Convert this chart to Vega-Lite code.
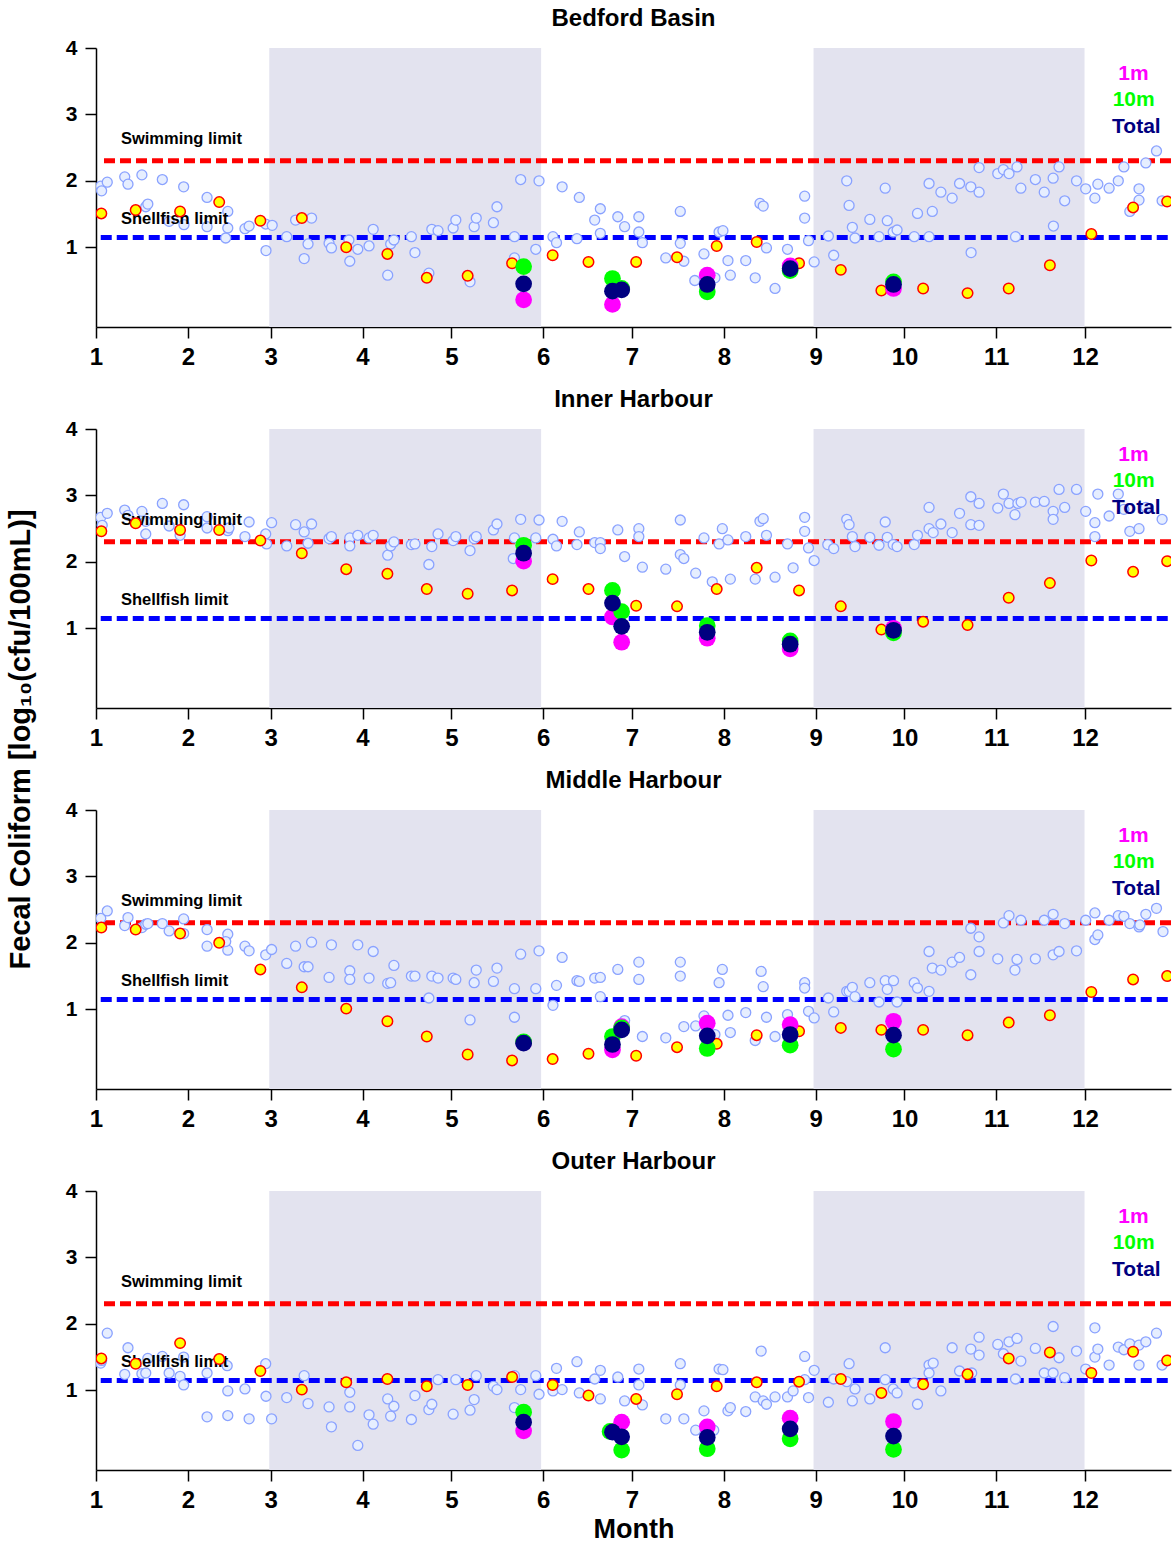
{
"$schema":"https://vega.github.io/schema/vega-lite/v6.json",
"background":"white",
"padding":{"left":7,"top":7,"right":0,"bottom":0},
"title":{"text":"Fecal Coliform [log₁₀(cfu/100mL)]","orient":"left","anchor":"middle","fontSize":29,"fontWeight":"bold","font":"Liberation Sans","color":"black","offset":29,"dx":35},
"config":{"font":"Liberation Sans","view":{"stroke":null},
 "axis":{"domainColor":"black","domainWidth":1.5,"tickColor":"black","tickWidth":1.5,"labelColor":"black","labelFontWeight":"bold","labelFont":"Liberation Sans","titleFont":"Liberation Sans","titleFontWeight":"bold","titleColor":"black","titleFontSize":27,"grid":false},
 "title":{"font":"Liberation Sans","fontSize":24,"fontWeight":"bold","color":"black","offset":6},
 "concat":{"spacing":19}},
"datasets":{
"seasons":[{"start":59.5,"end":151.3},{"start":243.3,"end":334.8}],
"limits":[{"limit":"Swimming limit","v":2.301,"start":3.7,"end":364},{"limit":"Shellfish limit","v":1.146,"start":2.6,"end":364}],
"notes":[{"label":"Swimming limit","v":2.63},{"label":"Shellfish limit","v":1.42}],
"legend":[{"depth":"1m","v":3.61,"day":351.3},{"depth":"10m","v":3.21,"day":351.4},{"depth":"Total","v":2.81,"day":352.3}],
"blue":[
{"site":"BB","day":2.6,"v":1.92},{"site":"BB","day":2.9,"v":1.85},{"site":"BB","day":4.8,"v":1.98},{"site":"BB","day":10.7,"v":2.06},{"site":"BB","day":11.8,"v":1.95},{"site":"BB","day":16.5,"v":2.09},{"site":"BB","day":23.4,"v":2.02},{"site":"BB","day":30.6,"v":1.91},{"site":"BB","day":17.8,"v":1.61},{"site":"BB","day":18.5,"v":1.65},{"site":"BB","day":25.7,"v":1.39},{"site":"BB","day":30.7,"v":1.34},{"site":"BB","day":38.5,"v":1.75},{"site":"BB","day":38.5,"v":1.31},{"site":"BB","day":45.5,"v":1.54},{"site":"BB","day":45.5,"v":1.29},{"site":"BB","day":44.8,"v":1.14},{"site":"BB","day":51.3,"v":1.28},{"site":"BB","day":52.7,"v":1.32},{"site":"BB","day":58.3,"v":1.35},{"site":"BB","day":60.5,"v":1.33},{"site":"BB","day":58.4,"v":0.95},{"site":"BB","day":65.4,"v":1.16},{"site":"BB","day":68.4,"v":1.41},{"site":"BB","day":73.8,"v":1.44},{"site":"BB","day":72.6,"v":1.05},{"site":"BB","day":71.3,"v":0.83},{"site":"BB","day":79.7,"v":1.06},{"site":"BB","day":80.5,"v":0.99},{"site":"BB","day":86.4,"v":1.11},{"site":"BB","day":86.7,"v":0.79},{"site":"BB","day":89.4,"v":0.97},{"site":"BB","day":93.2,"v":1.02},{"site":"BB","day":94.6,"v":1.27},{"site":"BB","day":99.5,"v":0.58},{"site":"BB","day":100.5,"v":1.05},{"site":"BB","day":101.6,"v":1.11},{"site":"BB","day":107.5,"v":1.16},{"site":"BB","day":108.7,"v":0.92},{"site":"BB","day":113.4,"v":0.61},{"site":"BB","day":114.4,"v":1.27},{"site":"BB","day":116.5,"v":1.25},{"site":"BB","day":121.6,"v":1.29},{"site":"BB","day":122.5,"v":1.41},{"site":"BB","day":127.3,"v":0.48},{"site":"BB","day":128.7,"v":1.31},{"site":"BB","day":129.4,"v":1.44},{"site":"BB","day":135.2,"v":1.37},{"site":"BB","day":136.4,"v":1.61},{"site":"BB","day":142.3,"v":1.16},{"site":"BB","day":142.3,"v":0.84},{"site":"BB","day":144.4,"v":2.02},{"site":"BB","day":149.5,"v":0.97},{"site":"BB","day":150.6,"v":2.0},{"site":"BB","day":155.3,"v":1.16},{"site":"BB","day":156.5,"v":1.07},{"site":"BB","day":158.4,"v":1.91},{"site":"BB","day":163.4,"v":1.13},{"site":"BB","day":164.2,"v":1.75},{"site":"BB","day":169.4,"v":1.41},{"site":"BB","day":171.3,"v":1.58},{"site":"BB","day":171.3,"v":1.21},{"site":"BB","day":177.2,"v":1.46},{"site":"BB","day":179.5,"v":1.31},{"site":"BB","day":184.3,"v":1.46},{"site":"BB","day":184.3,"v":1.23},{"site":"BB","day":185.5,"v":1.07},{"site":"BB","day":193.4,"v":0.84},{"site":"BB","day":198.3,"v":1.54},{"site":"BB","day":198.3,"v":1.06},{"site":"BB","day":199.5,"v":0.79},{"site":"BB","day":203.2,"v":0.5},{"site":"BB","day":206.3,"v":0.9},{"site":"BB","day":210.0,"v":0.54},{"site":"BB","day":211.4,"v":1.23},{"site":"BB","day":212.7,"v":1.25},{"site":"BB","day":214.4,"v":0.8},{"site":"BB","day":215.2,"v":0.58},{"site":"BB","day":220.4,"v":0.8},{"site":"BB","day":223.6,"v":0.54},{"site":"BB","day":225.2,"v":1.66},{"site":"BB","day":226.3,"v":1.62},{"site":"BB","day":227.4,"v":0.99},{"site":"BB","day":230.3,"v":0.38},{"site":"BB","day":234.5,"v":0.97},{"site":"BB","day":240.3,"v":1.77},{"site":"BB","day":240.3,"v":1.44},{"site":"BB","day":241.6,"v":1.1},{"site":"BB","day":243.5,"v":0.78},{"site":"BB","day":248.3,"v":1.17},{"site":"BB","day":250.1,"v":0.88},{"site":"BB","day":254.5,"v":2.0},{"site":"BB","day":255.3,"v":1.63},{"site":"BB","day":256.4,"v":1.3},{"site":"BB","day":257.3,"v":1.14},{"site":"BB","day":262.3,"v":1.42},{"site":"BB","day":265.4,"v":1.16},{"site":"BB","day":267.5,"v":1.89},{"site":"BB","day":268.2,"v":1.4},{"site":"BB","day":270.2,"v":1.23},{"site":"BB","day":271.5,"v":1.26},{"site":"BB","day":277.3,"v":1.16},{"site":"BB","day":278.4,"v":1.51},{"site":"BB","day":282.3,"v":1.96},{"site":"BB","day":282.3,"v":1.16},{"site":"BB","day":283.4,"v":1.54},{"site":"BB","day":286.3,"v":1.83},{"site":"BB","day":290.1,"v":1.74},{"site":"BB","day":292.6,"v":1.96},{"site":"BB","day":296.4,"v":1.91},{"site":"BB","day":296.5,"v":0.92},{"site":"BB","day":299.2,"v":2.2},{"site":"BB","day":299.2,"v":1.83},{"site":"BB","day":305.5,"v":2.11},{"site":"BB","day":307.4,"v":2.17},{"site":"BB","day":309.3,"v":2.11},{"site":"BB","day":312.0,"v":2.21},{"site":"BB","day":313.3,"v":1.89},{"site":"BB","day":311.5,"v":1.16},{"site":"BB","day":318.2,"v":2.02},{"site":"BB","day":321.2,"v":1.83},{"site":"BB","day":324.2,"v":2.04},{"site":"BB","day":326.2,"v":2.21},{"site":"BB","day":324.3,"v":1.32},{"site":"BB","day":328.1,"v":1.7},{"site":"BB","day":332.1,"v":2.0},{"site":"BB","day":335.2,"v":1.88},{"site":"BB","day":338.3,"v":1.74},{"site":"BB","day":339.3,"v":1.95},{"site":"BB","day":343.1,"v":1.89},{"site":"BB","day":346.2,"v":2.0},{"site":"BB","day":348.1,"v":2.21},{"site":"BB","day":350.1,"v":1.54},{"site":"BB","day":353.2,"v":1.88},{"site":"BB","day":353.2,"v":1.71},{"site":"BB","day":355.5,"v":2.27},{"site":"BB","day":359.1,"v":2.45},{"site":"BB","day":361.0,"v":1.7},
{"site":"IH","day":2.6,"v":2.67},{"site":"IH","day":3.1,"v":2.55},{"site":"IH","day":4.8,"v":2.73},{"site":"IH","day":10.7,"v":2.78},{"site":"IH","day":11.8,"v":2.7},{"site":"IH","day":16.5,"v":2.76},{"site":"IH","day":17.8,"v":2.42},{"site":"IH","day":17.8,"v":2.61},{"site":"IH","day":23.4,"v":2.88},{"site":"IH","day":25.7,"v":2.54},{"site":"IH","day":30.6,"v":2.86},{"site":"IH","day":29.4,"v":2.4},{"site":"IH","day":38.5,"v":2.68},{"site":"IH","day":38.5,"v":2.51},{"site":"IH","day":45.5,"v":2.47},{"site":"IH","day":45.9,"v":2.51},{"site":"IH","day":51.3,"v":2.38},{"site":"IH","day":52.7,"v":2.6},{"site":"IH","day":58.3,"v":2.42},{"site":"IH","day":58.6,"v":2.27},{"site":"IH","day":60.3,"v":2.59},{"site":"IH","day":65.4,"v":2.24},{"site":"IH","day":68.4,"v":2.56},{"site":"IH","day":71.3,"v":2.45},{"site":"IH","day":72.6,"v":2.28},{"site":"IH","day":73.8,"v":2.57},{"site":"IH","day":79.7,"v":2.35},{"site":"IH","day":80.5,"v":2.38},{"site":"IH","day":86.7,"v":2.36},{"site":"IH","day":86.7,"v":2.24},{"site":"IH","day":89.4,"v":2.4},{"site":"IH","day":93.2,"v":2.36},{"site":"IH","day":94.6,"v":2.4},{"site":"IH","day":99.5,"v":2.1},{"site":"IH","day":100.5,"v":2.24},{"site":"IH","day":101.6,"v":2.3},{"site":"IH","day":107.5,"v":2.26},{"site":"IH","day":108.7,"v":2.27},{"site":"IH","day":113.4,"v":1.96},{"site":"IH","day":114.4,"v":2.23},{"site":"IH","day":116.5,"v":2.42},{"site":"IH","day":121.6,"v":2.32},{"site":"IH","day":122.5,"v":2.38},{"site":"IH","day":127.3,"v":2.17},{"site":"IH","day":128.7,"v":2.35},{"site":"IH","day":129.4,"v":2.38},{"site":"IH","day":135.2,"v":2.48},{"site":"IH","day":136.4,"v":2.57},{"site":"IH","day":142.3,"v":2.36},{"site":"IH","day":141.9,"v":2.05},{"site":"IH","day":144.4,"v":2.64},{"site":"IH","day":149.5,"v":2.36},{"site":"IH","day":150.6,"v":2.63},{"site":"IH","day":155.3,"v":2.34},{"site":"IH","day":156.5,"v":2.24},{"site":"IH","day":158.4,"v":2.61},{"site":"IH","day":163.4,"v":2.26},{"site":"IH","day":164.2,"v":2.45},{"site":"IH","day":169.4,"v":2.29},{"site":"IH","day":171.3,"v":2.29},{"site":"IH","day":171.3,"v":2.2},{"site":"IH","day":177.2,"v":2.48},{"site":"IH","day":179.5,"v":2.08},{"site":"IH","day":184.3,"v":2.5},{"site":"IH","day":184.3,"v":2.38},{"site":"IH","day":185.5,"v":1.92},{"site":"IH","day":193.4,"v":1.89},{"site":"IH","day":198.3,"v":2.63},{"site":"IH","day":198.3,"v":2.11},{"site":"IH","day":199.5,"v":2.05},{"site":"IH","day":203.5,"v":1.83},{"site":"IH","day":206.3,"v":2.36},{"site":"IH","day":211.4,"v":2.27},{"site":"IH","day":212.5,"v":2.5},{"site":"IH","day":214.4,"v":2.33},{"site":"IH","day":215.2,"v":1.74},{"site":"IH","day":209.1,"v":1.7},{"site":"IH","day":220.4,"v":2.38},{"site":"IH","day":223.6,"v":1.74},{"site":"IH","day":225.2,"v":2.61},{"site":"IH","day":226.3,"v":2.65},{"site":"IH","day":227.4,"v":2.4},{"site":"IH","day":230.3,"v":1.77},{"site":"IH","day":234.5,"v":2.27},{"site":"IH","day":236.4,"v":1.91},{"site":"IH","day":240.3,"v":2.67},{"site":"IH","day":240.3,"v":2.46},{"site":"IH","day":241.6,"v":2.21},{"site":"IH","day":243.5,"v":2.02},{"site":"IH","day":248.1,"v":2.26},{"site":"IH","day":250.1,"v":2.2},{"site":"IH","day":254.5,"v":2.64},{"site":"IH","day":255.3,"v":2.56},{"site":"IH","day":256.4,"v":2.38},{"site":"IH","day":257.3,"v":2.23},{"site":"IH","day":262.3,"v":2.37},{"site":"IH","day":265.4,"v":2.25},{"site":"IH","day":267.5,"v":2.6},{"site":"IH","day":268.2,"v":2.37},{"site":"IH","day":270.2,"v":2.26},{"site":"IH","day":271.5,"v":2.23},{"site":"IH","day":277.3,"v":2.26},{"site":"IH","day":278.4,"v":2.4},{"site":"IH","day":282.3,"v":2.82},{"site":"IH","day":282.3,"v":2.5},{"site":"IH","day":283.7,"v":2.44},{"site":"IH","day":286.3,"v":2.57},{"site":"IH","day":290.1,"v":2.44},{"site":"IH","day":292.6,"v":2.73},{"site":"IH","day":296.4,"v":2.98},{"site":"IH","day":296.4,"v":2.56},{"site":"IH","day":299.2,"v":2.88},{"site":"IH","day":299.2,"v":2.55},{"site":"IH","day":305.5,"v":2.81},{"site":"IH","day":307.4,"v":3.02},{"site":"IH","day":309.3,"v":2.88},{"site":"IH","day":311.3,"v":2.71},{"site":"IH","day":312.3,"v":2.88},{"site":"IH","day":313.4,"v":2.9},{"site":"IH","day":318.2,"v":2.9},{"site":"IH","day":321.2,"v":2.91},{"site":"IH","day":324.2,"v":2.76},{"site":"IH","day":324.2,"v":2.64},{"site":"IH","day":326.2,"v":3.09},{"site":"IH","day":328.1,"v":2.82},{"site":"IH","day":332.1,"v":3.09},{"site":"IH","day":335.2,"v":2.76},{"site":"IH","day":338.3,"v":2.59},{"site":"IH","day":338.3,"v":2.38},{"site":"IH","day":339.3,"v":3.02},{"site":"IH","day":343.1,"v":2.69},{"site":"IH","day":346.2,"v":3.02},{"site":"IH","day":348.1,"v":2.79},{"site":"IH","day":350.1,"v":2.46},{"site":"IH","day":353.2,"v":2.5},{"site":"IH","day":355.5,"v":2.82},{"site":"IH","day":361.0,"v":2.64},
{"site":"MH","day":2.6,"v":2.37},{"site":"MH","day":4.8,"v":2.48},{"site":"MH","day":10.7,"v":2.26},{"site":"MH","day":11.8,"v":2.38},{"site":"MH","day":16.5,"v":2.23},{"site":"MH","day":17.8,"v":2.28},{"site":"MH","day":18.5,"v":2.29},{"site":"MH","day":23.4,"v":2.29},{"site":"MH","day":25.7,"v":2.18},{"site":"MH","day":30.6,"v":2.36},{"site":"MH","day":30.6,"v":2.14},{"site":"MH","day":38.5,"v":2.2},{"site":"MH","day":38.5,"v":1.95},{"site":"MH","day":45.5,"v":2.13},{"site":"MH","day":45.5,"v":1.89},{"site":"MH","day":44.8,"v":2.02},{"site":"MH","day":51.3,"v":1.95},{"site":"MH","day":52.7,"v":1.88},{"site":"MH","day":58.3,"v":1.82},{"site":"MH","day":60.3,"v":1.9},{"site":"MH","day":65.4,"v":1.69},{"site":"MH","day":68.4,"v":1.95},{"site":"MH","day":71.3,"v":1.64},{"site":"MH","day":72.6,"v":1.64},{"site":"MH","day":73.8,"v":2.01},{"site":"MH","day":79.7,"v":1.48},{"site":"MH","day":80.5,"v":1.97},{"site":"MH","day":86.7,"v":1.58},{"site":"MH","day":86.7,"v":1.45},{"site":"MH","day":89.4,"v":1.97},{"site":"MH","day":93.2,"v":1.47},{"site":"MH","day":94.6,"v":1.87},{"site":"MH","day":99.5,"v":1.39},{"site":"MH","day":100.5,"v":1.4},{"site":"MH","day":101.6,"v":1.66},{"site":"MH","day":107.5,"v":1.5},{"site":"MH","day":108.7,"v":1.5},{"site":"MH","day":113.4,"v":1.17},{"site":"MH","day":114.4,"v":1.5},{"site":"MH","day":116.5,"v":1.47},{"site":"MH","day":121.6,"v":1.47},{"site":"MH","day":122.5,"v":1.45},{"site":"MH","day":127.3,"v":0.84},{"site":"MH","day":128.7,"v":1.4},{"site":"MH","day":129.4,"v":1.59},{"site":"MH","day":135.2,"v":1.42},{"site":"MH","day":136.4,"v":1.62},{"site":"MH","day":142.3,"v":1.31},{"site":"MH","day":142.3,"v":0.88},{"site":"MH","day":144.4,"v":1.83},{"site":"MH","day":149.5,"v":1.31},{"site":"MH","day":150.6,"v":1.88},{"site":"MH","day":155.3,"v":1.06},{"site":"MH","day":156.5,"v":1.36},{"site":"MH","day":158.4,"v":1.78},{"site":"MH","day":163.4,"v":1.43},{"site":"MH","day":164.2,"v":1.42},{"site":"MH","day":169.4,"v":1.47},{"site":"MH","day":171.3,"v":1.48},{"site":"MH","day":171.3,"v":1.19},{"site":"MH","day":177.2,"v":1.6},{"site":"MH","day":179.5,"v":0.83},{"site":"MH","day":184.3,"v":1.71},{"site":"MH","day":184.3,"v":1.45},{"site":"MH","day":185.5,"v":0.59},{"site":"MH","day":193.4,"v":0.57},{"site":"MH","day":198.3,"v":1.71},{"site":"MH","day":198.3,"v":1.5},{"site":"MH","day":199.5,"v":0.74},{"site":"MH","day":203.5,"v":0.75},{"site":"MH","day":206.3,"v":0.9},{"site":"MH","day":210.0,"v":0.62},{"site":"MH","day":211.4,"v":1.4},{"site":"MH","day":212.5,"v":1.6},{"site":"MH","day":214.4,"v":0.91},{"site":"MH","day":215.2,"v":0.65},{"site":"MH","day":220.4,"v":0.95},{"site":"MH","day":223.6,"v":0.53},{"site":"MH","day":225.6,"v":1.57},{"site":"MH","day":226.3,"v":1.34},{"site":"MH","day":227.4,"v":0.88},{"site":"MH","day":230.3,"v":0.59},{"site":"MH","day":234.5,"v":0.92},{"site":"MH","day":240.3,"v":1.4},{"site":"MH","day":240.3,"v":1.32},{"site":"MH","day":241.6,"v":0.97},{"site":"MH","day":243.5,"v":0.87},{"site":"MH","day":248.3,"v":1.17},{"site":"MH","day":250.1,"v":0.96},{"site":"MH","day":254.5,"v":1.27},{"site":"MH","day":255.3,"v":1.27},{"site":"MH","day":256.4,"v":1.33},{"site":"MH","day":257.3,"v":1.19},{"site":"MH","day":262.3,"v":1.4},{"site":"MH","day":265.4,"v":1.11},{"site":"MH","day":267.5,"v":1.43},{"site":"MH","day":268.2,"v":1.3},{"site":"MH","day":270.3,"v":1.43},{"site":"MH","day":271.5,"v":1.11},{"site":"MH","day":277.3,"v":1.4},{"site":"MH","day":278.4,"v":1.32},{"site":"MH","day":282.3,"v":1.87},{"site":"MH","day":282.3,"v":1.27},{"site":"MH","day":283.4,"v":1.62},{"site":"MH","day":286.3,"v":1.59},{"site":"MH","day":290.1,"v":1.71},{"site":"MH","day":292.6,"v":1.78},{"site":"MH","day":296.4,"v":2.22},{"site":"MH","day":296.4,"v":1.52},{"site":"MH","day":299.2,"v":2.09},{"site":"MH","day":299.2,"v":1.87},{"site":"MH","day":305.5,"v":1.76},{"site":"MH","day":307.4,"v":2.3},{"site":"MH","day":309.3,"v":2.41},{"site":"MH","day":312.0,"v":1.75},{"site":"MH","day":311.3,"v":1.59},{"site":"MH","day":313.3,"v":2.34},{"site":"MH","day":318.2,"v":1.76},{"site":"MH","day":321.2,"v":2.34},{"site":"MH","day":324.2,"v":1.82},{"site":"MH","day":324.2,"v":2.43},{"site":"MH","day":326.2,"v":1.87},{"site":"MH","day":328.1,"v":2.29},{"site":"MH","day":332.1,"v":1.88},{"site":"MH","day":335.2,"v":2.34},{"site":"MH","day":338.3,"v":2.45},{"site":"MH","day":338.3,"v":2.05},{"site":"MH","day":339.3,"v":2.12},{"site":"MH","day":343.1,"v":2.34},{"site":"MH","day":346.2,"v":2.41},{"site":"MH","day":348.1,"v":2.4},{"site":"MH","day":350.1,"v":2.29},{"site":"MH","day":353.2,"v":2.24},{"site":"MH","day":353.5,"v":2.27},{"site":"MH","day":355.5,"v":2.43},{"site":"MH","day":359.1,"v":2.52},{"site":"MH","day":361.3,"v":2.17},
{"site":"OH","day":2.6,"v":1.41},{"site":"OH","day":2.9,"v":1.45},{"site":"OH","day":4.8,"v":1.86},{"site":"OH","day":10.7,"v":1.24},{"site":"OH","day":11.8,"v":1.64},{"site":"OH","day":16.5,"v":1.25},{"site":"OH","day":17.8,"v":1.26},{"site":"OH","day":18.5,"v":1.48},{"site":"OH","day":23.4,"v":1.51},{"site":"OH","day":25.7,"v":1.26},{"site":"OH","day":29.4,"v":1.21},{"site":"OH","day":30.6,"v":1.5},{"site":"OH","day":30.6,"v":1.08},{"site":"OH","day":38.5,"v":0.6},{"site":"OH","day":38.5,"v":1.26},{"site":"OH","day":45.5,"v":0.99},{"site":"OH","day":45.5,"v":0.62},{"site":"OH","day":45.3,"v":1.37},{"site":"OH","day":51.3,"v":1.02},{"site":"OH","day":52.7,"v":0.57},{"site":"OH","day":58.3,"v":1.4},{"site":"OH","day":58.4,"v":0.91},{"site":"OH","day":60.3,"v":0.57},{"site":"OH","day":65.4,"v":0.89},{"site":"OH","day":71.3,"v":1.22},{"site":"OH","day":72.6,"v":0.8},{"site":"OH","day":79.7,"v":0.75},{"site":"OH","day":80.5,"v":0.45},{"site":"OH","day":86.7,"v":0.97},{"site":"OH","day":86.7,"v":0.75},{"site":"OH","day":89.4,"v":0.17},{"site":"OH","day":93.2,"v":0.63},{"site":"OH","day":94.6,"v":0.49},{"site":"OH","day":99.5,"v":0.87},{"site":"OH","day":100.5,"v":0.61},{"site":"OH","day":101.6,"v":0.76},{"site":"OH","day":107.5,"v":0.56},{"site":"OH","day":108.7,"v":0.92},{"site":"OH","day":113.4,"v":0.71},{"site":"OH","day":114.4,"v":0.79},{"site":"OH","day":116.5,"v":1.16},{"site":"OH","day":121.6,"v":0.64},{"site":"OH","day":122.5,"v":1.16},{"site":"OH","day":127.3,"v":0.7},{"site":"OH","day":128.7,"v":0.86},{"site":"OH","day":129.4,"v":1.22},{"site":"OH","day":135.2,"v":1.06},{"site":"OH","day":136.4,"v":1.01},{"site":"OH","day":142.3,"v":0.74},{"site":"OH","day":142.3,"v":1.22},{"site":"OH","day":144.4,"v":1.01},{"site":"OH","day":149.5,"v":1.22},{"site":"OH","day":150.6,"v":0.94},{"site":"OH","day":155.3,"v":0.99},{"site":"OH","day":156.5,"v":1.33},{"site":"OH","day":158.4,"v":1.01},{"site":"OH","day":163.4,"v":1.43},{"site":"OH","day":164.2,"v":0.96},{"site":"OH","day":169.4,"v":1.17},{"site":"OH","day":171.3,"v":1.3},{"site":"OH","day":171.3,"v":0.87},{"site":"OH","day":177.2,"v":1.2},{"site":"OH","day":179.5,"v":0.84},{"site":"OH","day":184.3,"v":1.32},{"site":"OH","day":184.3,"v":1.08},{"site":"OH","day":185.5,"v":0.78},{"site":"OH","day":193.4,"v":0.57},{"site":"OH","day":198.3,"v":1.4},{"site":"OH","day":198.3,"v":1.08},{"site":"OH","day":199.5,"v":0.57},{"site":"OH","day":203.5,"v":0.4},{"site":"OH","day":206.3,"v":0.69},{"site":"OH","day":209.6,"v":0.4},{"site":"OH","day":211.4,"v":1.32},{"site":"OH","day":212.7,"v":1.31},{"site":"OH","day":214.4,"v":0.69},{"site":"OH","day":215.2,"v":0.74},{"site":"OH","day":220.4,"v":0.68},{"site":"OH","day":223.6,"v":0.9},{"site":"OH","day":225.6,"v":1.59},{"site":"OH","day":226.3,"v":0.84},{"site":"OH","day":227.4,"v":0.79},{"site":"OH","day":230.3,"v":0.9},{"site":"OH","day":234.5,"v":0.9},{"site":"OH","day":236.4,"v":0.99},{"site":"OH","day":240.3,"v":1.51},{"site":"OH","day":240.3,"v":1.16},{"site":"OH","day":241.6,"v":0.89},{"site":"OH","day":243.5,"v":1.3},{"site":"OH","day":248.3,"v":0.82},{"site":"OH","day":250.1,"v":1.17},{"site":"OH","day":254.5,"v":1.13},{"site":"OH","day":255.3,"v":1.4},{"site":"OH","day":256.4,"v":0.84},{"site":"OH","day":257.3,"v":1.02},{"site":"OH","day":262.3,"v":0.87},{"site":"OH","day":267.5,"v":1.64},{"site":"OH","day":267.5,"v":1.16},{"site":"OH","day":270.2,"v":1.02},{"site":"OH","day":271.5,"v":0.96},{"site":"OH","day":277.3,"v":1.11},{"site":"OH","day":278.4,"v":0.79},{"site":"OH","day":282.3,"v":1.38},{"site":"OH","day":282.3,"v":1.26},{"site":"OH","day":283.7,"v":1.41},{"site":"OH","day":286.3,"v":0.99},{"site":"OH","day":290.1,"v":1.64},{"site":"OH","day":292.6,"v":1.29},{"site":"OH","day":296.4,"v":1.62},{"site":"OH","day":296.7,"v":1.26},{"site":"OH","day":299.2,"v":1.8},{"site":"OH","day":299.2,"v":1.53},{"site":"OH","day":305.5,"v":1.69},{"site":"OH","day":307.4,"v":1.55},{"site":"OH","day":309.3,"v":1.73},{"site":"OH","day":312.0,"v":1.78},{"site":"OH","day":311.5,"v":1.17},{"site":"OH","day":313.3,"v":1.44},{"site":"OH","day":318.2,"v":1.63},{"site":"OH","day":321.2,"v":1.26},{"site":"OH","day":324.2,"v":1.96},{"site":"OH","day":324.2,"v":1.26},{"site":"OH","day":326.2,"v":1.49},{"site":"OH","day":328.1,"v":1.19},{"site":"OH","day":332.1,"v":1.59},{"site":"OH","day":335.2,"v":1.32},{"site":"OH","day":338.3,"v":1.94},{"site":"OH","day":338.3,"v":1.5},{"site":"OH","day":339.3,"v":1.62},{"site":"OH","day":343.1,"v":1.38},{"site":"OH","day":346.2,"v":1.65},{"site":"OH","day":348.1,"v":1.61},{"site":"OH","day":350.1,"v":1.7},{"site":"OH","day":353.2,"v":1.68},{"site":"OH","day":353.2,"v":1.38},{"site":"OH","day":355.5,"v":1.73},{"site":"OH","day":359.1,"v":1.86},{"site":"OH","day":361.0,"v":1.38}
],
"yellow":[
{"site":"BB","day":2.8,"v":1.51},{"site":"BB","day":14.4,"v":1.56},{"site":"BB","day":29.4,"v":1.54},{"site":"BB","day":42.6,"v":1.68},{"site":"BB","day":56.5,"v":1.4},{"site":"BB","day":70.5,"v":1.44},{"site":"BB","day":85.5,"v":1.0},{"site":"BB","day":99.4,"v":0.9},{"site":"BB","day":112.7,"v":0.54},{"site":"BB","day":126.5,"v":0.57},{"site":"BB","day":141.5,"v":0.76},{"site":"BB","day":155.2,"v":0.88},{"site":"BB","day":167.3,"v":0.78},{"site":"BB","day":183.4,"v":0.78},{"site":"BB","day":197.2,"v":0.85},{"site":"BB","day":210.6,"v":1.02},{"site":"BB","day":224.1,"v":1.08},{"site":"BB","day":238.4,"v":0.76},{"site":"BB","day":252.5,"v":0.66},{"site":"BB","day":266.2,"v":0.35},{"site":"BB","day":280.3,"v":0.38},{"site":"BB","day":295.3,"v":0.31},{"site":"BB","day":309.2,"v":0.38},{"site":"BB","day":323.1,"v":0.73},{"site":"BB","day":337.1,"v":1.2},{"site":"BB","day":351.2,"v":1.6},{"site":"BB","day":362.7,"v":1.69},
{"site":"IH","day":2.8,"v":2.46},{"site":"IH","day":14.4,"v":2.58},{"site":"IH","day":29.4,"v":2.48},{"site":"IH","day":42.6,"v":2.48},{"site":"IH","day":56.5,"v":2.32},{"site":"IH","day":70.5,"v":2.13},{"site":"IH","day":85.5,"v":1.89},{"site":"IH","day":99.4,"v":1.82},{"site":"IH","day":112.7,"v":1.59},{"site":"IH","day":126.5,"v":1.52},{"site":"IH","day":141.5,"v":1.57},{"site":"IH","day":155.2,"v":1.74},{"site":"IH","day":167.3,"v":1.59},{"site":"IH","day":183.4,"v":1.34},{"site":"IH","day":197.2,"v":1.33},{"site":"IH","day":210.6,"v":1.59},{"site":"IH","day":224.1,"v":1.91},{"site":"IH","day":238.4,"v":1.57},{"site":"IH","day":252.5,"v":1.33},{"site":"IH","day":266.2,"v":0.98},{"site":"IH","day":280.3,"v":1.1},{"site":"IH","day":295.3,"v":1.05},{"site":"IH","day":309.2,"v":1.46},{"site":"IH","day":323.1,"v":1.68},{"site":"IH","day":337.1,"v":2.02},{"site":"IH","day":351.2,"v":1.85},{"site":"IH","day":362.7,"v":2.01},
{"site":"MH","day":2.8,"v":2.23},{"site":"MH","day":14.4,"v":2.2},{"site":"MH","day":29.4,"v":2.14},{"site":"MH","day":42.6,"v":2.0},{"site":"MH","day":56.5,"v":1.6},{"site":"MH","day":70.5,"v":1.33},{"site":"MH","day":85.5,"v":1.01},{"site":"MH","day":99.4,"v":0.82},{"site":"MH","day":112.7,"v":0.59},{"site":"MH","day":126.5,"v":0.32},{"site":"MH","day":141.5,"v":0.23},{"site":"MH","day":155.2,"v":0.25},{"site":"MH","day":167.3,"v":0.33},{"site":"MH","day":183.4,"v":0.3},{"site":"MH","day":197.2,"v":0.43},{"site":"MH","day":210.6,"v":0.48},{"site":"MH","day":224.1,"v":0.61},{"site":"MH","day":238.4,"v":0.67},{"site":"MH","day":252.5,"v":0.72},{"site":"MH","day":266.2,"v":0.69},{"site":"MH","day":280.3,"v":0.69},{"site":"MH","day":295.3,"v":0.61},{"site":"MH","day":309.2,"v":0.8},{"site":"MH","day":323.1,"v":0.91},{"site":"MH","day":337.1,"v":1.26},{"site":"MH","day":351.2,"v":1.45},{"site":"MH","day":362.7,"v":1.5},
{"site":"OH","day":2.8,"v":1.48},{"site":"OH","day":14.4,"v":1.4},{"site":"OH","day":29.4,"v":1.71},{"site":"OH","day":42.6,"v":1.47},{"site":"OH","day":56.5,"v":1.29},{"site":"OH","day":70.5,"v":1.01},{"site":"OH","day":85.5,"v":1.12},{"site":"OH","day":99.4,"v":1.17},{"site":"OH","day":112.7,"v":1.06},{"site":"OH","day":126.5,"v":1.08},{"site":"OH","day":141.5,"v":1.2},{"site":"OH","day":155.2,"v":1.08},{"site":"OH","day":167.3,"v":0.92},{"site":"OH","day":183.4,"v":0.87},{"site":"OH","day":197.2,"v":0.94},{"site":"OH","day":210.6,"v":1.06},{"site":"OH","day":224.1,"v":1.12},{"site":"OH","day":238.4,"v":1.13},{"site":"OH","day":252.5,"v":1.17},{"site":"OH","day":266.2,"v":0.96},{"site":"OH","day":280.3,"v":1.09},{"site":"OH","day":295.3,"v":1.24},{"site":"OH","day":309.2,"v":1.48},{"site":"OH","day":323.1,"v":1.57},{"site":"OH","day":337.1,"v":1.26},{"site":"OH","day":351.2,"v":1.58},{"site":"OH","day":362.7,"v":1.45}
],
"depths":[
{"site":"BB","depth":"1m","day":145.4,"v":0.21},{"site":"BB","depth":"1m","day":175.4,"v":0.14},{"site":"BB","depth":"1m","day":178.5,"v":0.37},{"site":"BB","depth":"1m","day":207.4,"v":0.58},{"site":"BB","depth":"1m","day":235.4,"v":0.72},{"site":"BB","depth":"1m","day":270.3,"v":0.38},
{"site":"IH","depth":"1m","day":145.4,"v":2.01},{"site":"IH","depth":"1m","day":175.4,"v":1.17},{"site":"IH","depth":"1m","day":178.5,"v":0.79},{"site":"IH","depth":"1m","day":207.4,"v":0.85},{"site":"IH","depth":"1m","day":235.4,"v":0.69},{"site":"IH","depth":"1m","day":270.3,"v":1.0},
{"site":"MH","depth":"1m","day":145.4,"v":0.5},{"site":"MH","depth":"1m","day":175.4,"v":0.39},{"site":"MH","depth":"1m","day":178.5,"v":0.74},{"site":"MH","depth":"1m","day":207.4,"v":0.79},{"site":"MH","depth":"1m","day":235.4,"v":0.77},{"site":"MH","depth":"1m","day":270.3,"v":0.82},
{"site":"OH","depth":"1m","day":145.4,"v":0.39},{"site":"OH","depth":"1m","day":175.4,"v":0.38},{"site":"OH","depth":"1m","day":178.5,"v":0.52},{"site":"OH","depth":"1m","day":207.4,"v":0.45},{"site":"OH","depth":"1m","day":235.4,"v":0.58},{"site":"OH","depth":"1m","day":270.3,"v":0.53},
{"site":"BB","depth":"10m","day":145.4,"v":0.71},{"site":"BB","depth":"10m","day":175.4,"v":0.53},{"site":"BB","depth":"10m","day":178.5,"v":0.38},{"site":"BB","depth":"10m","day":207.4,"v":0.33},{"site":"BB","depth":"10m","day":235.4,"v":0.65},{"site":"BB","depth":"10m","day":270.3,"v":0.48},
{"site":"IH","depth":"10m","day":145.4,"v":2.25},{"site":"IH","depth":"10m","day":175.4,"v":1.57},{"site":"IH","depth":"10m","day":178.5,"v":1.25},{"site":"IH","depth":"10m","day":207.4,"v":1.04},{"site":"IH","depth":"10m","day":235.4,"v":0.81},{"site":"IH","depth":"10m","day":270.3,"v":0.93},
{"site":"MH","depth":"10m","day":145.4,"v":0.51},{"site":"MH","depth":"10m","day":175.4,"v":0.59},{"site":"MH","depth":"10m","day":178.5,"v":0.72},{"site":"MH","depth":"10m","day":207.4,"v":0.41},{"site":"MH","depth":"10m","day":235.4,"v":0.46},{"site":"MH","depth":"10m","day":270.3,"v":0.4},
{"site":"OH","depth":"10m","day":145.4,"v":0.67},{"site":"OH","depth":"10m","day":174.6,"v":0.38},{"site":"OH","depth":"10m","day":178.5,"v":0.1},{"site":"OH","depth":"10m","day":207.4,"v":0.12},{"site":"OH","depth":"10m","day":235.4,"v":0.27},{"site":"OH","depth":"10m","day":270.3,"v":0.11},
{"site":"BB","depth":"Total","day":145.4,"v":0.45},{"site":"BB","depth":"Total","day":175.4,"v":0.34},{"site":"BB","depth":"Total","day":178.5,"v":0.36},{"site":"BB","depth":"Total","day":207.4,"v":0.44},{"site":"BB","depth":"Total","day":235.4,"v":0.68},{"site":"BB","depth":"Total","day":270.3,"v":0.44},
{"site":"IH","depth":"Total","day":145.4,"v":2.13},{"site":"IH","depth":"Total","day":175.4,"v":1.38},{"site":"IH","depth":"Total","day":178.5,"v":1.03},{"site":"IH","depth":"Total","day":207.4,"v":0.94},{"site":"IH","depth":"Total","day":235.4,"v":0.76},{"site":"IH","depth":"Total","day":270.3,"v":0.97},
{"site":"MH","depth":"Total","day":145.4,"v":0.49},{"site":"MH","depth":"Total","day":175.4,"v":0.47},{"site":"MH","depth":"Total","day":178.5,"v":0.69},{"site":"MH","depth":"Total","day":207.4,"v":0.6},{"site":"MH","depth":"Total","day":235.4,"v":0.62},{"site":"MH","depth":"Total","day":270.3,"v":0.61},
{"site":"OH","depth":"Total","day":145.4,"v":0.52},{"site":"OH","depth":"Total","day":175.4,"v":0.37},{"site":"OH","depth":"Total","day":178.5,"v":0.3},{"site":"OH","depth":"Total","day":207.4,"v":0.29},{"site":"OH","depth":"Total","day":235.4,"v":0.42},{"site":"OH","depth":"Total","day":270.3,"v":0.31}
]
},
"vconcat":[
{"width":1075,"height":279,"title":{"text":"Bedford Basin"},"resolve":{"scale":{"color":"independent"}},
"layer":[
{"data":{"name":"seasons"},"mark":{"type":"rect","color":"#e3e3ef"},"encoding":{"x":{"field":"start","type":"quantitative","scale":{"domain":[1,364],"nice":false,"zero":false},"axis":{"values":[1,32,60,91,121,152,182,213,244,274,305,335],"labelExpr":"indexof([1,32,60,91,121,152,182,213,244,274,305,335], datum.value)+1","title":null,"tickSize":11,"labelFontSize":24,"labelPadding":7,"labelFlush":false,"labelOverlap":false}},"x2":{"field":"end"}}},
{"data":{"name":"limits"},"mark":{"type":"rule","strokeWidth":5,"strokeDash":[11,5]},"encoding":{"x":{"field":"start","type":"quantitative"},"x2":{"field":"end"},"y":{"field":"v","type":"quantitative","scale":{"domain":[-0.2,4],"nice":false,"zero":false},"axis":{"values":[1,2,3,4],"format":"d","title":null,"tickSize":11,"labelFontSize":21,"labelPadding":8}},"color":{"field":"limit","type":"nominal","scale":{"domain":["Swimming limit","Shellfish limit"],"range":["#ff0000","#0000ff"]},"legend":null}}},
{"data":{"name":"blue"},"transform":[{"filter":"datum.site=='BB'"}],"mark":{"type":"point","shape":"circle","filled":true,"fill":"#e6eeff","stroke":"#8aa2ff","strokeWidth":1.3,"size":100,"opacity":1,"clip":true},"encoding":{"x":{"field":"day","type":"quantitative"},"y":{"field":"v","type":"quantitative"}}},
{"data":{"name":"notes"},"mark":{"type":"text","align":"left","baseline":"middle","fontSize":16.5,"fontWeight":"bold","font":"Liberation Sans","color":"black"},"encoding":{"x":{"datum":9.4,"type":"quantitative"},"y":{"field":"v","type":"quantitative"},"text":{"field":"label"}}},
{"data":{"name":"yellow"},"transform":[{"filter":"datum.site=='BB'"}],"mark":{"type":"point","shape":"circle","filled":true,"fill":"#ffff00","stroke":"#ff0000","strokeWidth":1.5,"size":110,"opacity":1,"clip":true},"encoding":{"x":{"field":"day","type":"quantitative"},"y":{"field":"v","type":"quantitative"}}},
{"data":{"name":"depths"},"transform":[{"filter":"datum.site=='BB'"}],"mark":{"type":"circle","size":280,"opacity":1,"clip":true},"encoding":{"x":{"field":"day","type":"quantitative"},"y":{"field":"v","type":"quantitative"},"color":{"field":"depth","type":"nominal","scale":{"domain":["1m","10m","Total"],"range":["#ff00ff","#00ff00","#000080"]},"legend":null}}},
{"data":{"name":"legend"},"mark":{"type":"text","align":"center","baseline":"middle","fontSize":21,"fontWeight":"bold","font":"Liberation Sans"},"encoding":{"x":{"field":"day","type":"quantitative"},"y":{"field":"v","type":"quantitative"},"text":{"field":"depth"},"color":{"field":"depth","type":"nominal","scale":{"domain":["1m","10m","Total"],"range":["#ff00ff","#00ff00","#000080"]},"legend":null}}}
]},
{"width":1075,"height":279,"title":{"text":"Inner Harbour"},"resolve":{"scale":{"color":"independent"}},
"layer":[
{"data":{"name":"seasons"},"mark":{"type":"rect","color":"#e3e3ef"},"encoding":{"x":{"field":"start","type":"quantitative","scale":{"domain":[1,364],"nice":false,"zero":false},"axis":{"values":[1,32,60,91,121,152,182,213,244,274,305,335],"labelExpr":"indexof([1,32,60,91,121,152,182,213,244,274,305,335], datum.value)+1","title":null,"tickSize":11,"labelFontSize":24,"labelPadding":7,"labelFlush":false,"labelOverlap":false}},"x2":{"field":"end"}}},
{"data":{"name":"limits"},"mark":{"type":"rule","strokeWidth":5,"strokeDash":[11,5]},"encoding":{"x":{"field":"start","type":"quantitative"},"x2":{"field":"end"},"y":{"field":"v","type":"quantitative","scale":{"domain":[-0.2,4],"nice":false,"zero":false},"axis":{"values":[1,2,3,4],"format":"d","title":null,"tickSize":11,"labelFontSize":21,"labelPadding":8}},"color":{"field":"limit","type":"nominal","scale":{"domain":["Swimming limit","Shellfish limit"],"range":["#ff0000","#0000ff"]},"legend":null}}},
{"data":{"name":"blue"},"transform":[{"filter":"datum.site=='IH'"}],"mark":{"type":"point","shape":"circle","filled":true,"fill":"#e6eeff","stroke":"#8aa2ff","strokeWidth":1.3,"size":100,"opacity":1,"clip":true},"encoding":{"x":{"field":"day","type":"quantitative"},"y":{"field":"v","type":"quantitative"}}},
{"data":{"name":"notes"},"mark":{"type":"text","align":"left","baseline":"middle","fontSize":16.5,"fontWeight":"bold","font":"Liberation Sans","color":"black"},"encoding":{"x":{"datum":9.4,"type":"quantitative"},"y":{"field":"v","type":"quantitative"},"text":{"field":"label"}}},
{"data":{"name":"yellow"},"transform":[{"filter":"datum.site=='IH'"}],"mark":{"type":"point","shape":"circle","filled":true,"fill":"#ffff00","stroke":"#ff0000","strokeWidth":1.5,"size":110,"opacity":1,"clip":true},"encoding":{"x":{"field":"day","type":"quantitative"},"y":{"field":"v","type":"quantitative"}}},
{"data":{"name":"depths"},"transform":[{"filter":"datum.site=='IH'"}],"mark":{"type":"circle","size":280,"opacity":1,"clip":true},"encoding":{"x":{"field":"day","type":"quantitative"},"y":{"field":"v","type":"quantitative"},"color":{"field":"depth","type":"nominal","scale":{"domain":["1m","10m","Total"],"range":["#ff00ff","#00ff00","#000080"]},"legend":null}}},
{"data":{"name":"legend"},"mark":{"type":"text","align":"center","baseline":"middle","fontSize":21,"fontWeight":"bold","font":"Liberation Sans"},"encoding":{"x":{"field":"day","type":"quantitative"},"y":{"field":"v","type":"quantitative"},"text":{"field":"depth"},"color":{"field":"depth","type":"nominal","scale":{"domain":["1m","10m","Total"],"range":["#ff00ff","#00ff00","#000080"]},"legend":null}}}
]},
{"width":1075,"height":279,"title":{"text":"Middle Harbour"},"resolve":{"scale":{"color":"independent"}},
"layer":[
{"data":{"name":"seasons"},"mark":{"type":"rect","color":"#e3e3ef"},"encoding":{"x":{"field":"start","type":"quantitative","scale":{"domain":[1,364],"nice":false,"zero":false},"axis":{"values":[1,32,60,91,121,152,182,213,244,274,305,335],"labelExpr":"indexof([1,32,60,91,121,152,182,213,244,274,305,335], datum.value)+1","title":null,"tickSize":11,"labelFontSize":24,"labelPadding":7,"labelFlush":false,"labelOverlap":false}},"x2":{"field":"end"}}},
{"data":{"name":"limits"},"mark":{"type":"rule","strokeWidth":5,"strokeDash":[11,5]},"encoding":{"x":{"field":"start","type":"quantitative"},"x2":{"field":"end"},"y":{"field":"v","type":"quantitative","scale":{"domain":[-0.2,4],"nice":false,"zero":false},"axis":{"values":[1,2,3,4],"format":"d","title":null,"tickSize":11,"labelFontSize":21,"labelPadding":8}},"color":{"field":"limit","type":"nominal","scale":{"domain":["Swimming limit","Shellfish limit"],"range":["#ff0000","#0000ff"]},"legend":null}}},
{"data":{"name":"blue"},"transform":[{"filter":"datum.site=='MH'"}],"mark":{"type":"point","shape":"circle","filled":true,"fill":"#e6eeff","stroke":"#8aa2ff","strokeWidth":1.3,"size":100,"opacity":1,"clip":true},"encoding":{"x":{"field":"day","type":"quantitative"},"y":{"field":"v","type":"quantitative"}}},
{"data":{"name":"notes"},"mark":{"type":"text","align":"left","baseline":"middle","fontSize":16.5,"fontWeight":"bold","font":"Liberation Sans","color":"black"},"encoding":{"x":{"datum":9.4,"type":"quantitative"},"y":{"field":"v","type":"quantitative"},"text":{"field":"label"}}},
{"data":{"name":"yellow"},"transform":[{"filter":"datum.site=='MH'"}],"mark":{"type":"point","shape":"circle","filled":true,"fill":"#ffff00","stroke":"#ff0000","strokeWidth":1.5,"size":110,"opacity":1,"clip":true},"encoding":{"x":{"field":"day","type":"quantitative"},"y":{"field":"v","type":"quantitative"}}},
{"data":{"name":"depths"},"transform":[{"filter":"datum.site=='MH'"}],"mark":{"type":"circle","size":280,"opacity":1,"clip":true},"encoding":{"x":{"field":"day","type":"quantitative"},"y":{"field":"v","type":"quantitative"},"color":{"field":"depth","type":"nominal","scale":{"domain":["1m","10m","Total"],"range":["#ff00ff","#00ff00","#000080"]},"legend":null}}},
{"data":{"name":"legend"},"mark":{"type":"text","align":"center","baseline":"middle","fontSize":21,"fontWeight":"bold","font":"Liberation Sans"},"encoding":{"x":{"field":"day","type":"quantitative"},"y":{"field":"v","type":"quantitative"},"text":{"field":"depth"},"color":{"field":"depth","type":"nominal","scale":{"domain":["1m","10m","Total"],"range":["#ff00ff","#00ff00","#000080"]},"legend":null}}}
]},
{"width":1075,"height":279,"title":{"text":"Outer Harbour"},"resolve":{"scale":{"color":"independent"}},
"layer":[
{"data":{"name":"seasons"},"mark":{"type":"rect","color":"#e3e3ef"},"encoding":{"x":{"field":"start","type":"quantitative","scale":{"domain":[1,364],"nice":false,"zero":false},"axis":{"values":[1,32,60,91,121,152,182,213,244,274,305,335],"labelExpr":"indexof([1,32,60,91,121,152,182,213,244,274,305,335], datum.value)+1","title":"Month","titlePadding":4,"tickSize":11,"labelFontSize":24,"labelPadding":7,"labelFlush":false,"labelOverlap":false}},"x2":{"field":"end"}}},
{"data":{"name":"limits"},"mark":{"type":"rule","strokeWidth":5,"strokeDash":[11,5]},"encoding":{"x":{"field":"start","type":"quantitative"},"x2":{"field":"end"},"y":{"field":"v","type":"quantitative","scale":{"domain":[-0.2,4],"nice":false,"zero":false},"axis":{"values":[1,2,3,4],"format":"d","title":null,"tickSize":11,"labelFontSize":21,"labelPadding":8}},"color":{"field":"limit","type":"nominal","scale":{"domain":["Swimming limit","Shellfish limit"],"range":["#ff0000","#0000ff"]},"legend":null}}},
{"data":{"name":"blue"},"transform":[{"filter":"datum.site=='OH'"}],"mark":{"type":"point","shape":"circle","filled":true,"fill":"#e6eeff","stroke":"#8aa2ff","strokeWidth":1.3,"size":100,"opacity":1,"clip":true},"encoding":{"x":{"field":"day","type":"quantitative"},"y":{"field":"v","type":"quantitative"}}},
{"data":{"name":"notes"},"mark":{"type":"text","align":"left","baseline":"middle","fontSize":16.5,"fontWeight":"bold","font":"Liberation Sans","color":"black"},"encoding":{"x":{"datum":9.4,"type":"quantitative"},"y":{"field":"v","type":"quantitative"},"text":{"field":"label"}}},
{"data":{"name":"yellow"},"transform":[{"filter":"datum.site=='OH'"}],"mark":{"type":"point","shape":"circle","filled":true,"fill":"#ffff00","stroke":"#ff0000","strokeWidth":1.5,"size":110,"opacity":1,"clip":true},"encoding":{"x":{"field":"day","type":"quantitative"},"y":{"field":"v","type":"quantitative"}}},
{"data":{"name":"depths"},"transform":[{"filter":"datum.site=='OH'"}],"mark":{"type":"circle","size":280,"opacity":1,"clip":true},"encoding":{"x":{"field":"day","type":"quantitative"},"y":{"field":"v","type":"quantitative"},"color":{"field":"depth","type":"nominal","scale":{"domain":["1m","10m","Total"],"range":["#ff00ff","#00ff00","#000080"]},"legend":null}}},
{"data":{"name":"legend"},"mark":{"type":"text","align":"center","baseline":"middle","fontSize":21,"fontWeight":"bold","font":"Liberation Sans"},"encoding":{"x":{"field":"day","type":"quantitative"},"y":{"field":"v","type":"quantitative"},"text":{"field":"depth"},"color":{"field":"depth","type":"nominal","scale":{"domain":["1m","10m","Total"],"range":["#ff00ff","#00ff00","#000080"]},"legend":null}}}
]}
]
}
